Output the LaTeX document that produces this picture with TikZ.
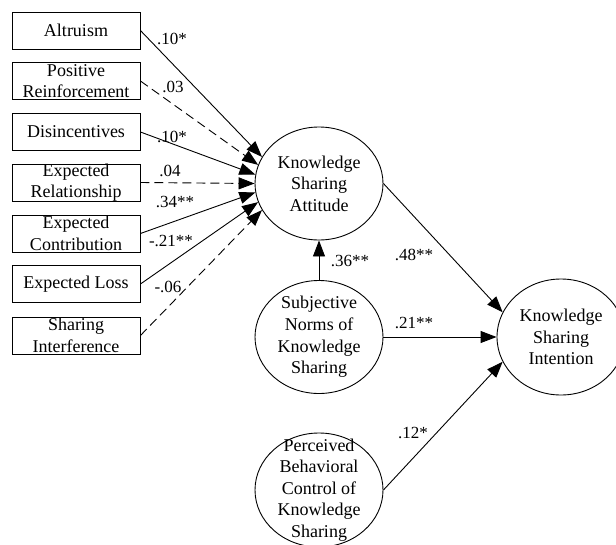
\documentclass[tikz,border=0pt]{standalone}
\usepackage{fontspec}
\setmainfont{Liberation Serif}
\usetikzlibrary{shapes.geometric,arrows.meta}
\begin{document}
\begin{tikzpicture}[x=1pt,y=-1pt,
  line width=0.9pt,
  obsbox/.style={draw,rectangle,minimum width=128pt,minimum height=37pt,inner sep=0pt},
  latent/.style={draw,ellipse,minimum width=128pt,minimum height=113pt,inner sep=0pt},
  txt/.style={align=center,inner sep=0pt,font=\fontsize{18}{21.6}\selectfont},
  coef/.style={inner sep=0pt,font=\fontsize{17}{20}\selectfont},
  path/.style={-{Triangle[length=16pt,width=12pt]}},
  ns/.style={path,dash pattern=on 9pt off 5pt}]
\useasboundingbox (0,0) rectangle (616,544);
\begin{scope}
\clip (0,0) rectangle (616,544);
% observed boxes
\node[obsbox] (alt) at (76,30.5) {};
\node[obsbox] (pos) at (76,81) {};
\node[obsbox] (dis) at (76,132) {};
\node[obsbox] (rel) at (76,182.5) {};
\node[obsbox] (con) at (76,233.5) {};
\node[obsbox] (los) at (76,284) {};
\node[obsbox] (int) at (76,335.5) {};
\node[txt] (altT) at (alt) {Altruism};
\node[txt] (posT) at (pos) {Positive\\Reinforcement};
\node[txt] (disT) at (dis) {Disincentives};
\node[txt] (relT) at (rel) {Expected\\Relationship};
\node[txt] (conT) at (con) {Expected\\Contribution};
\node[txt] (losT) at (los) {Expected Loss};
\node[txt] (intT) at (int) {Sharing\\Interference};
% latent ellipses
\node[latent] (att) at (319,183.5) {};
\node[latent] (sn) at (319,337) {};
\node[latent,minimum height=116pt] (ksi) at (561,337) {};
\node[latent,minimum height=114pt] (pbc) at (319,490) {};
\node[txt] (attT) at (att) {Knowledge\\Sharing\\Attitude};
\node[txt] (snT) at (sn) {Subjective\\Norms of\\Knowledge\\Sharing};
\node[txt] (ksiT) at (ksi) {Knowledge\\Sharing\\Intention};
\node[txt] (pbcT) at (pbc) {Perceived\\Behavioral\\Control of\\Knowledge\\Sharing};
% paths
\draw[path] (alt.east) -- (att.155);
\draw[ns] (pos.east) -- (att.163);
\draw[path] (dis.east) -- (att.172);
\draw[ns] (rel.east) -- (att.180);
\draw[path] (con.east) -- (att.188);
\draw[path] (los.east) -- (att.197);
\draw[ns] (int.east) -- (att.205);
\draw[path] (sn.north) -- (att.south);
\draw[path] (att.east) -- (ksi.157);
\draw[path] (sn.east) -- (ksi.west);
\draw[path] (pbc.east) -- (ksi.203);
% coefficients
\node[coef] (c1) at (172,39) {.10*};
\node[coef] (c2) at (173,87) {.03};
\node[coef] (c3) at (172,137) {.10*};
\node[coef] (c4) at (170,171) {.04};
\node[coef] (c5) at (175,202) {.34**};
\node[coef] (c6) at (171,241) {-.21**};
\node[coef] (c7) at (168,287) {-.06};
\node[coef] (c8) at (350,261) {.36**};
\node[coef] (c9) at (414,255) {.48**};
\node[coef] (c10) at (414,323) {.21**};
\node[coef] (c11) at (413,433) {.12*};
\end{scope}
\end{tikzpicture}
\end{document}
